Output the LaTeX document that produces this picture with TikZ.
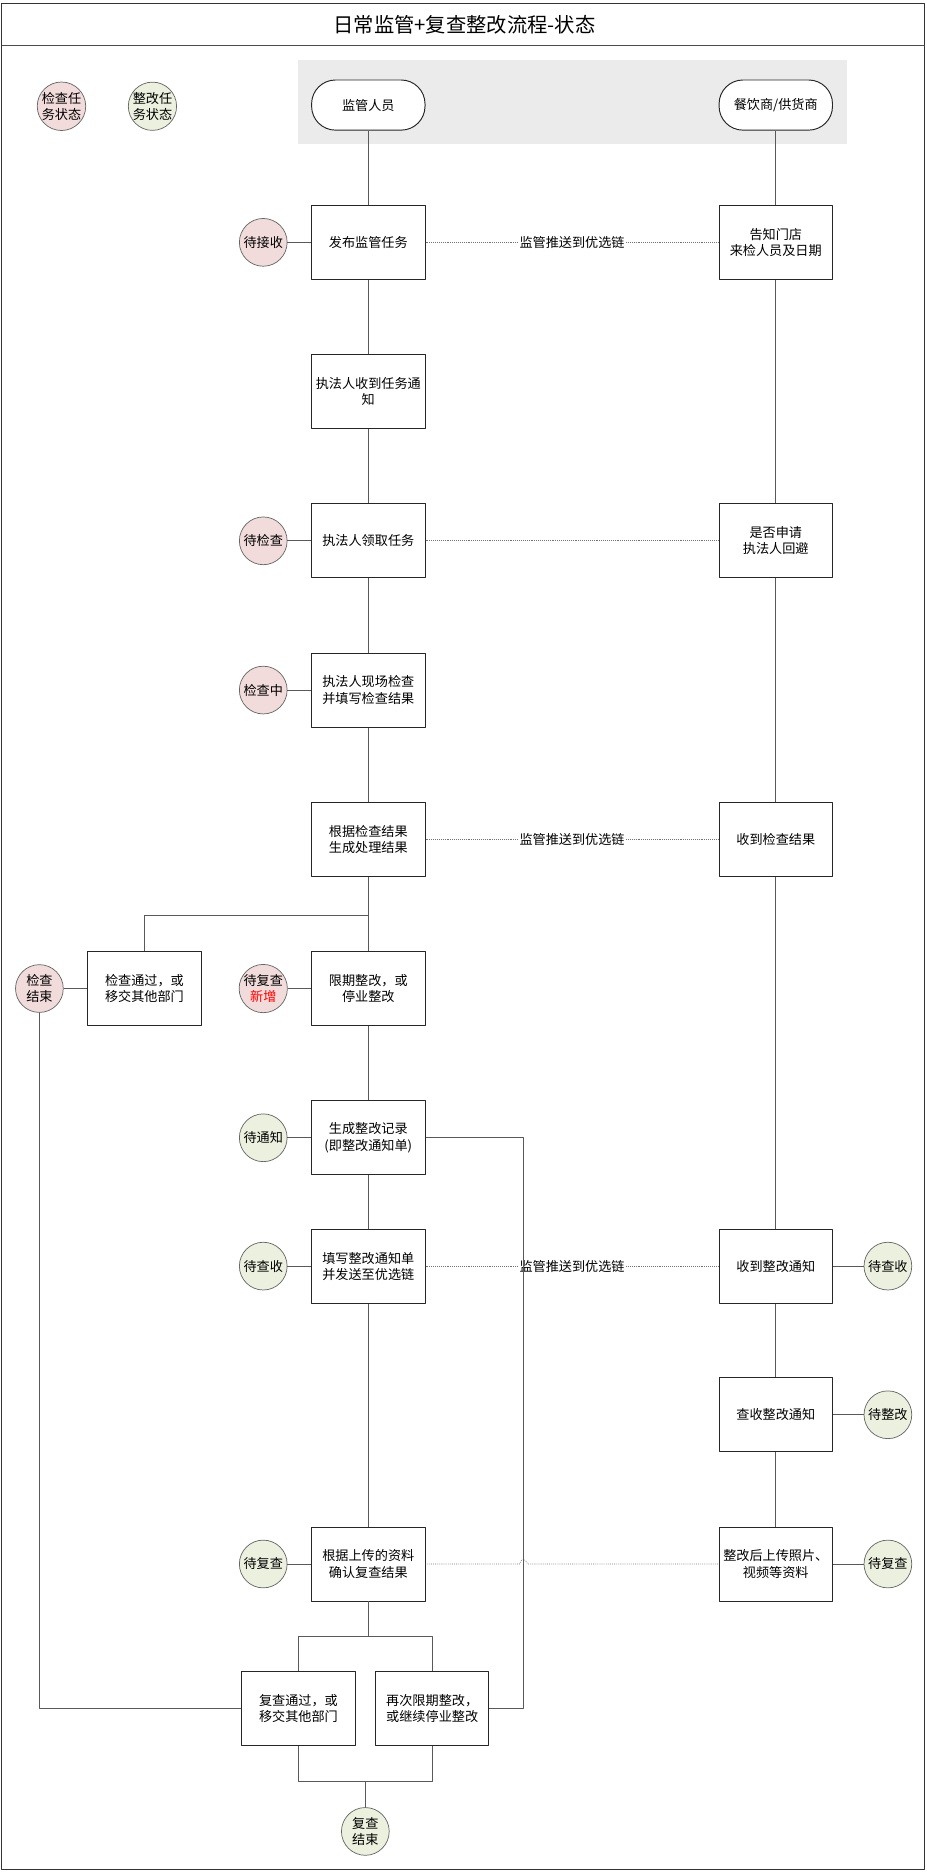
\documentclass[tikz,border=0pt]{standalone}
\usepackage{fontspec}
\setmainfont{Noto Sans CJK SC}
\definecolor{chkpink}{HTML}{F2DCDB}
\definecolor{fixgreen}{HTML}{EBF1DE}
\definecolor{lanegray}{HTML}{EBEBEB}
\tikzset{
  stepbox/.style={draw=black!85,line width=0.8pt,fill=white,minimum width=95pt,minimum height=62pt,inner sep=1pt,align=center},
  role/.style={draw=black!85,line width=0.8pt,fill=white,rounded corners=20pt,minimum width=95pt,minimum height=42pt},
  chkstate/.style={circle,draw=black!60,line width=0.6pt,fill=chkpink,minimum size=40pt,inner sep=0pt,align=center},
  fixstate/.style={chkstate,fill=fixgreen},
  flow/.style={draw=black!65,line width=0.7pt},
  push/.style={draw=black!55,line width=0.6pt,densely dotted},
  pushlabel/.style={fill=white,inner sep=1pt},
}
\begin{document}
\begin{tikzpicture}[x=1pt,y=-1pt,line join=round,font=\fontsize{11}{13.5}\selectfont]
  \def\xl{308.5} \def\xr{649.8} \def\xs{220.5} \def\xt{743.7}
  \useasboundingbox (0,0) rectangle (776,1568);
  % frame and title
  \draw[black!80,line width=0.9pt] (1.5,2.8) rectangle (774.5,1565.5);
  \draw[black!70,line width=1pt] (1.5,38.3) -- (774.5,38.3);
  \node (title) at (389,20.5) {\fontsize{17}{20}\selectfont 日常监管+复查整改流程-状态};
  \fill[lanegray] (249.3,50.3) rectangle (709.6,120.7);
  % legend
  \node[chkstate] (lgchk) at (51.5,89) {检查任\\务状态};
  \node[fixstate] (lgfix) at (127.7,89) {整改任\\务状态};
  % roles
  \node[role] (sup) at (\xl,88) {监管人员};
  \node[role] (shop) at (\xr,88) {餐饮商/供货商};
  % supervisor column
  \node[stepbox] (b1) at (\xl,203) {发布监管任务};
  \node[stepbox] (b2) at (\xl,328) {执法人收到任务通\\知};
  \node[stepbox] (b3) at (\xl,453) {执法人领取任务};
  \node[stepbox] (b4) at (\xl,578) {执法人现场检查\\并填写检查结果};
  \node[stepbox] (b5) at (\xl,703) {根据检查结果\\生成处理结果};
  \node[stepbox] (b6) at (\xl,828) {限期整改，或\\停业整改};
  \node[stepbox] (b7) at (\xl,953) {生成整改记录\\(即整改通知单)};
  \node[stepbox] (b8) at (\xl,1060.5) {填写整改通知单\\并发送至优选链};
  \node[stepbox] (b9) at (\xl,1310) {根据上传的资料\\确认复查结果};
  \node[stepbox] (pass) at (121,828) {检查通过，或\\移交其他部门};
  \node[stepbox] (ok) at (250,1431) {复查通过，或\\移交其他部门};
  \node[stepbox] (again) at (362,1431) {再次限期整改，\\或继续停业整改};
  % shop column
  \node[stepbox] (r1) at (\xr,203) {告知门店\\来检人员及日期};
  \node[stepbox] (r2) at (\xr,453) {是否申请\\执法人回避};
  \node[stepbox] (r3) at (\xr,703) {收到检查结果};
  \node[stepbox] (r4) at (\xr,1060.5) {收到整改通知};
  \node[stepbox] (r5) at (\xr,1185) {查收整改通知};
  \node[stepbox] (r6) at (\xr,1310) {整改后上传照片、\\视频等资料};
  % states
  \node[chkstate] (s1) at (\xs,203) {待接收};
  \node[chkstate] (s3) at (\xs,453) {待检查};
  \node[chkstate] (s4) at (\xs,578) {检查中};
  \node[chkstate] (s6) at (\xs,828) {待复查\\{\color{red}新增}};
  \node[fixstate] (s7) at (\xs,953) {待通知};
  \node[fixstate] (s8) at (\xs,1060.5) {待查收};
  \node[fixstate] (s9) at (\xs,1310) {待复查};
  \node[chkstate] (end1) at (33,828) {检查\\结束};
  \node[fixstate] (end2) at (306,1534) {复查\\结束};
  \node[fixstate] (t4) at (\xt,1060.5) {待查收};
  \node[fixstate] (t5) at (\xt,1185) {待整改};
  \node[fixstate] (t6) at (\xt,1310) {待复查};
  % joints
  \coordinate (fork) at (\xl,767);
  \coordinate (split) at (\xl,1371);
  \coordinate (merge) at (306,1492);
  \coordinate (rtop) at (438.5,953);
  \coordinate (rbot) at (438.5,1431);
  \coordinate (jl) at (435,1310);
  \coordinate (jr) at (442,1310);
  % flow lines
  \foreach \a/\b in {sup/b1,b1/b2,b2/b3,b3/b4,b4/b5,b6/b7,b7/b8,b8/b9,
    shop/r1,r1/r2,r2/r3,r3/r4,r4/r5,r5/r6,
    s1/b1,s3/b3,s4/b4,s6/b6,s7/b7,s8/b8,s9/b9,end1/pass,t4/r4,t5/r5,t6/r6}
    \draw[flow] (\a) -- (\b);
  \draw[flow] (b5) -- (fork) -- (b6);
  \draw[flow] (fork) -| (pass);
  \draw[flow] (b9) -- (split);
  \draw[flow] (ok) |- (split) -| (again);
  \draw[flow] (ok) |- (merge) -| (again);
  \draw[flow] (merge) -- (end2);
  \draw[flow] (end1) |- (ok);
  % pushes to the supplier chain
  \draw[push] (b1) -- node[pushlabel] {监管推送到优选链} (r1);
  \draw[push] (b3) -- (r2);
  \draw[push] (b5) -- node[pushlabel] {监管推送到优选链} (r3);
  \draw[push] (b8) -- node[pushlabel] {监管推送到优选链} (r4);
  \draw[push] (b9) -- (jl) .. controls (437,1305) and (440,1305) .. (jr) -- (r6);
  % loop back to the second rectification
  \draw[flow] (b7) -- (rtop) -- (rbot) -- (again);
\end{tikzpicture}
\end{document}
